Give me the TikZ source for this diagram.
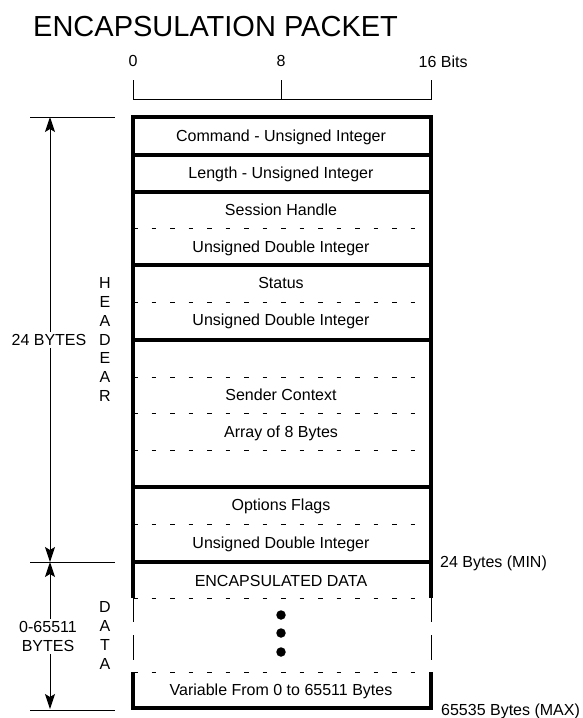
\documentclass[tikz,border=0pt]{standalone}
\usepackage{fontspec}
\setmainfont{Liberation Sans}
\usetikzlibrary{arrows.meta, positioning}
\tikzset{
  cell/.style={
    rectangle, draw, line width=3.2pt, outer sep=0pt,
    minimum width=298pt, inner sep=0pt},
  fieldtext/.style={
    font=\fontsize{16}{19}\selectfont,
    text height=11.5pt, text depth=0pt, inner sep=0pt},
  plainlbl/.style={
    font=\fontsize{16}{19}\selectfont,
    text height=11.5pt, text depth=0pt, inner sep=0pt},
  sidelbl/.style={
    font=\fontsize{16}{19}\selectfont, align=center, inner sep=2pt},
  divider/.style={line width=0.8pt, dash pattern=on 4.5pt off 14pt},
  frame/.style={line width=3.2pt},
  thinside/.style={line width=1pt},
  ruler/.style={line width=1pt},
  dimarrow/.style={-{Stealth[length=15pt, width=10pt, inset=3pt]},
                   line width=1pt},
  dot/.style={circle, fill, inner sep=0pt, minimum size=9.5pt}
}
\begin{document}
\begin{tikzpicture}[x=1pt, y=-1pt]
  \useasboundingbox (0,0) rectangle (582,718);

  %% Title
  \node[anchor=base west, inner sep=0pt, font=\fontsize{29}{29}\selectfont]
    (title) at (33,36) {ENCAPSULATION PACKET};

  %% Bit ruler
  \coordinate (r0) at (133,80);
  \coordinate (r8) at (281,80);
  \coordinate (r16) at (431,80);
  \draw[ruler] (r0) -- (133,99) -- (431,99) -- (r16);
  \draw[ruler] (r8) -- (281,99);
  \node[plainlbl, above=13pt of r0] (bit0) {0};
  \node[plainlbl, above=13pt of r8] (bit8) {8};
  \node[plainlbl, anchor=base west] (bit16) at (418.5,67) {16 Bits};

  %% Header cells
  \node[cell, minimum height=38pt] (cmdcell) at (282,136) {};
  \node[cell, minimum height=37pt, below=0pt of cmdcell] (lencell) {};
  \node[cell, minimum height=73pt, below=0pt of lencell] (sesscell) {};
  \node[cell, minimum height=75pt, below=0pt of sesscell] (statcell) {};
  \node[cell, minimum height=147pt, below=0pt of statcell] (sndcell) {};
  \node[cell, minimum height=75pt, below=0pt of sndcell] (optcell) {};

  %% Field texts
  \node[fieldtext] (cmdtxt) at (281,136) {Command - Unsigned Integer};
  \node[fieldtext] (lentxt) at (281,173) {Length - Unsigned Integer};
  \node[fieldtext] (sesstxt) at (281,210) {Session Handle};
  \node[fieldtext] (sesstype) at (281,247) {Unsigned Double Integer};
  \node[fieldtext] (stattxt) at (281,283) {Status};
  \node[fieldtext] (stattype) at (281,320) {Unsigned Double Integer};
  \node[fieldtext] (sndtxt) at (281,395) {Sender Context};
  \node[fieldtext] (sndtype) at (281,432) {Array of 8 Bytes};
  \node[fieldtext] (opttxt) at (281,505) {Options Flags};
  \node[fieldtext] (opttype) at (281,543) {Unsigned Double Integer};

  %% Dashed dividers
  \draw[divider] (sesscell.west) -- +(285,0);
  \draw[divider] (statcell.west) -- +(285,0);
  \draw[divider] (133,377) -- +(285,0);
  \draw[divider] (sndcell.west) -- +(285,0);
  \draw[divider] (133,450) -- +(285,0);
  \draw[divider] (optcell.west) -- +(285,0);

  %% Data section
  \draw[frame] (133,598) -- (133,562) -- (431,562) -- (431,598);
  \draw[frame] (133,672) -- (133,708) -- (431,708) -- (431,672);
  \draw[thinside] (133,598) -- (133,622) (133,635) -- (133,660);
  \draw[thinside] (431,598) -- (431,622) (431,635) -- (431,660);
  \draw[divider] (133,598) -- +(285,0);
  \draw[divider] (133,672) -- +(285,0);
  \node[fieldtext] (datatxt) at (281,581) {ENCAPSULATED DATA};
  \node[dot] (dot1) at (281,615) {};
  \node[dot] (dot2) at (281,633) {};
  \node[dot] (dot3) at (281,652) {};
  \node[fieldtext] (vartxt) at (281,690) {Variable From 0 to 65511 Bytes};

  %% Left dimensions
  \draw[ruler] (30,117) -- (115,117);
  \draw[ruler] (30,562) -- (115,562);
  \draw[ruler] (30,710) -- (115,710);
  \coordinate (htop) at (50,117);
  \coordinate (hbot) at (50,562);
  \coordinate (dtop) at (50,562);
  \coordinate (dbot) at (50,709);

  \node[sidelbl] (hdrlbl) at (49,340) {24 BYTES};
  \draw[dimarrow] (hdrlbl.north -| htop) -- (htop);
  \draw[dimarrow] (hdrlbl.south -| hbot) -- (hbot);

  \node[sidelbl] (datalbl) at (48,636.5) {0-65511\\BYTES};
  \draw[dimarrow] (datalbl.north -| dtop) -- (dtop);
  \draw[dimarrow] (datalbl.south -| dbot) -- (dbot);

  \node[sidelbl, inner sep=0pt, font=\fontsize{16}{18.83}\selectfont]
    (hdrword) at (105,339.5) {H\\E\\A\\D\\E\\A\\R};
  \node[sidelbl, inner sep=0pt]
    (dataword) at (105,635.5) {D\\A\\T\\A};

  %% Right labels
  \node[plainlbl, anchor=west] (minlbl) at (440,562) {24 Bytes (MIN)};
  \node[plainlbl, anchor=west] (maxlbl) at (441,710) {65535 Bytes (MAX)};

\end{tikzpicture}
\end{document}
